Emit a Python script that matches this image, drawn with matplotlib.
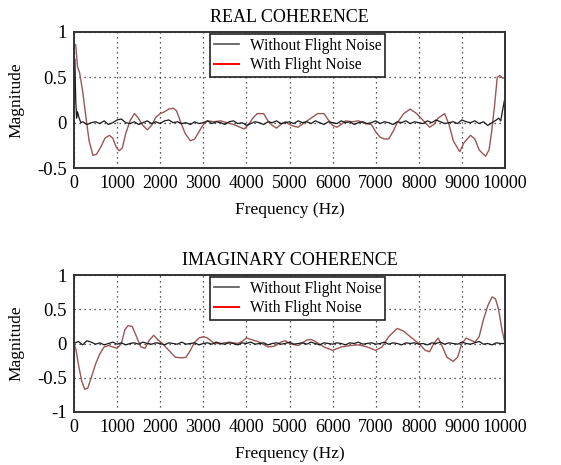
import matplotlib
matplotlib.use("Agg")
import matplotlib.pyplot as plt
from matplotlib.lines import Line2D
import numpy as np

plt.rcParams['font.family'] = ['Liberation Serif', 'DejaVu Serif']

# ---------------- data ----------------
real_with_f = [0, 40, 80, 130, 200, 280, 350, 440, 520, 620, 720, 820, 900, 980, 1050, 1120, 1200,
               1300, 1400, 1480, 1580, 1700, 1800, 1900, 2000, 2100, 2200, 2300, 2380, 2480, 2580,
               2700, 2800, 2900, 3000, 3100, 3250, 3400, 3550, 3700, 3850, 3950, 4050, 4150, 4250,
               4400, 4500, 4600, 4700, 4800, 4900, 5000, 5100, 5200, 5350, 5500, 5650, 5800, 5900,
               6000, 6100, 6200, 6300, 6450, 6600, 6750, 6900, 7000, 7100, 7200, 7300, 7400, 7500,
               7650, 7800, 7950, 8050, 8150, 8250, 8350, 8450, 8600, 8700, 8800, 8950, 9050, 9200,
               9300, 9400, 9480, 9550, 9630, 9690, 9760, 9820, 9880, 9950, 10000]
real_with_v = [0.85, 0.86, 0.62, 0.55, 0.35, 0.05, -0.20, -0.36, -0.35, -0.27, -0.17, -0.14, -0.17,
               -0.27, -0.31, -0.28, -0.12, 0.02, 0.10, 0.06, -0.02, -0.08, -0.03, 0.06, 0.10, 0.12,
               0.15, 0.16, 0.13, 0.00, -0.12, -0.20, -0.18, -0.10, -0.02, 0.02, 0.01, 0.02, 0.00,
               -0.02, -0.05, -0.07, -0.02, 0.05, 0.10, 0.10, 0.02, -0.03, -0.06, -0.02, 0.01, -0.02,
               -0.04, -0.05, 0.00, 0.05, 0.10, 0.10, 0.03, -0.03, -0.05, -0.02, 0.02, 0.01, 0.02,
               -0.01, -0.02, -0.10, -0.16, -0.18, -0.18, -0.10, 0.00, 0.10, 0.15, 0.10, 0.05, 0.00,
               -0.05, -0.02, 0.05, 0.10, -0.02, -0.20, -0.32, -0.22, -0.14, -0.18, -0.30, -0.34,
               -0.37, -0.30, -0.10, 0.20, 0.50, 0.52, 0.49, 0.50]

real_without_f = [0, 20, 40, 60, 80, 120, 160] + list(range(200, 9801, 100)) + [9850, 9900, 9950, 10000]
real_without_v = [0.30, 0.70, 0.25, 0.05, 0.12, 0.05, 0.00,
                  0.01, -0.02, 0.00, 0.01, -0.01, 0.02, -0.02, 0.00, 0.03, 0.04,
                  0.00, -0.01, 0.01, -0.02, 0.00, 0.02, -0.01, 0.01, -0.01, 0.02,
                  0.03, 0.00, 0.01, -0.01, 0.00, -0.02, 0.01, -0.01, 0.00, 0.02,
                  -0.01, 0.01, 0.00, -0.02, 0.01, 0.02, -0.01, 0.00, -0.03, -0.01,
                  0.01, 0.00, -0.02, 0.01, 0.00, 0.02, -0.01, 0.00, 0.01, -0.01,
                  0.02, 0.00, 0.01, -0.01, 0.02, 0.00, -0.02, 0.01, 0.00, -0.01,
                  0.02, 0.00, 0.01, -0.02, 0.00, 0.01, -0.01, 0.00, 0.02, -0.01,
                  0.01, 0.00, -0.02, 0.01, 0.00, 0.02, -0.01, 0.01, 0.00, -0.01,
                  0.02, 0.00, 0.03, 0.01, -0.01, 0.00, 0.01, -0.01, 0.03, 0.01,
                  0.00, 0.02, -0.01, 0.01, -0.03, 0.00, 0.03,
                  0.05, 0.02, 0.15, 0.28]

imag_with_f = [0, 50, 100, 180, 250, 320, 400, 500, 600, 700, 800, 900, 1000, 1100, 1180, 1250,
               1350, 1450, 1550, 1650, 1750, 1850, 1950, 2050, 2200, 2350, 2500, 2600, 2700, 2800,
               2900, 3000, 3100, 3250, 3400, 3600, 3800, 3900, 4000, 4100, 4300, 4500, 4650, 4800,
               4900, 5000, 5200, 5400, 5500, 5600, 5800, 6000, 6200, 6400, 6600, 6800, 7000, 7150,
               7300, 7500, 7650, 7800, 8000, 8150, 8250, 8350, 8450, 8550, 8650, 8800, 8900, 9000,
               9100, 9200, 9300, 9400, 9500, 9600, 9700, 9780, 9850, 9930, 10000]
imag_with_v = [0.00, -0.10, -0.30, -0.55, -0.67, -0.65, -0.50, -0.30, -0.15, -0.05, -0.03, -0.05,
               -0.07, 0.00, 0.20, 0.26, 0.25, 0.10, -0.05, -0.07, 0.05, 0.12, 0.05, 0.00, -0.10,
               -0.20, -0.21, -0.20, -0.10, 0.02, 0.08, 0.10, 0.08, 0.00, 0.00, 0.02, 0.00, 0.03,
               0.08, 0.06, 0.02, -0.05, -0.04, 0.02, 0.04, 0.00, -0.03, 0.05, 0.06, 0.03, -0.05,
               -0.10, -0.05, -0.03, -0.02, -0.05, -0.10, -0.05, 0.10, 0.22, 0.18, 0.10, 0.00,
               -0.10, -0.12, 0.00, 0.08, -0.05, -0.20, -0.26, -0.20, 0.00, 0.08, 0.05, 0.02, 0.10,
               0.35, 0.55, 0.68, 0.65, 0.50, 0.20, 0.00]

imag_without_f = list(range(0, 10001, 100))
imag_without_v = [0.00, 0.03, -0.02, 0.04, 0.02, -0.01, 0.01, -0.02, 0.00, 0.02, -0.01,
                  0.01, -0.02, 0.00, 0.01, -0.01, 0.02, 0.00, -0.01, 0.01, 0.00,
                  -0.02, 0.01, 0.00, -0.01, 0.02, -0.01, 0.00, 0.01, -0.02, 0.00,
                  0.01, -0.01, 0.02, 0.00, -0.01, 0.01, 0.00, -0.02, 0.01, 0.00,
                  0.02, -0.01, 0.00, 0.01, -0.02, 0.00, 0.01, -0.01, 0.00, 0.02,
                  -0.01, 0.00, 0.01, -0.01, 0.02, 0.00, -0.02, 0.01, 0.00, -0.01,
                  0.01, 0.00, -0.02, 0.01, 0.00, 0.02, -0.01, 0.00, 0.01, -0.01,
                  0.00, 0.02, -0.01, 0.01, 0.00, -0.02, 0.01, 0.00, 0.01, -0.01,
                  0.00, -0.02, 0.01, 0.00, 0.02, -0.01, 0.01, 0.00, -0.01, 0.02,
                  0.00, -0.01, 0.01, 0.03, -0.01, 0.00, -0.02, 0.01, 0.00, 0.00]

xticks = list(range(0, 10001, 1000))
real_yticks = [-0.5, 0, 0.5, 1]
real_ytl = ['-0.5', '0', '0.5', '1']
imag_yticks = [-1, -0.5, 0, 0.5, 1]
imag_ytl = ['-1', '-0.5', '0', '0.5', '1']
labels = ['Without Flight Noise', 'With Flight Noise']
titles = ['REAL COHERENCE', 'IMAGINARY COHERENCE']

# ---------------- plotting ----------------
fig = plt.figure(figsize=(5.61, 4.65), dpi=100)
W, H = 561, 465
ax1 = fig.add_axes([74 / W, 1 - 168 / H, 431 / W, 136 / H])
ax2 = fig.add_axes([74 / W, 1 - 412 / H, 431 / W, 137 / H])

with_color = '#9a5656'
without_color = '#1a1a1a'

panels = [
    (ax1, real_without_f, real_without_v, real_with_f, real_with_v, (-0.5, 1), real_yticks, real_ytl, titles[0]),
    (ax2, imag_without_f, imag_without_v, imag_with_f, imag_with_v, (-1, 1), imag_yticks, imag_ytl, titles[1]),
]
for ax, wf, wv, rf, rv, ylim, yt, ytl, title in panels:
    ax.plot(rf, rv, color=with_color, lw=1.0)
    ax.plot(wf, wv, color=without_color, lw=0.9)
    ax.set_xlim(0, 10000)
    ax.set_ylim(*ylim)
    ax.set_xticks(xticks)
    ax.set_xticklabels([str(t) for t in xticks], fontsize=13)
    ax.set_yticks(yt)
    ax.set_yticklabels(ytl, fontsize=13.5)
    ax.grid(True, linestyle=(0, (1, 3)), color='#222222', lw=0.9)
    ax.tick_params(direction='in', length=0, width=0.8, pad=5)
    for s in ax.spines.values():
        s.set_linewidth(1.4)
        s.set_color('#333333')
    ax.set_title(title, fontsize=13, pad=7)
    ax.set_xlabel('Frequency (Hz)', fontsize=12.5, labelpad=7)
    ax.set_ylabel('Magnitude', fontsize=12.5, labelpad=9)
    handles = [Line2D([], [], color='#555555', lw=1.2), Line2D([], [], color='red', lw=1.4)]
    leg = ax.legend(handles, labels, loc='upper center', bbox_to_anchor=(0.519, 0.985),
                    fontsize=11.2, fancybox=False, framealpha=1, edgecolor='#222222',
                    borderpad=0.25, labelspacing=0.2, handlelength=1.6, handletextpad=0.7,
                    borderaxespad=0)
    leg.get_frame().set_linewidth(1.2)

fig.savefig('out.png', dpi=100)
